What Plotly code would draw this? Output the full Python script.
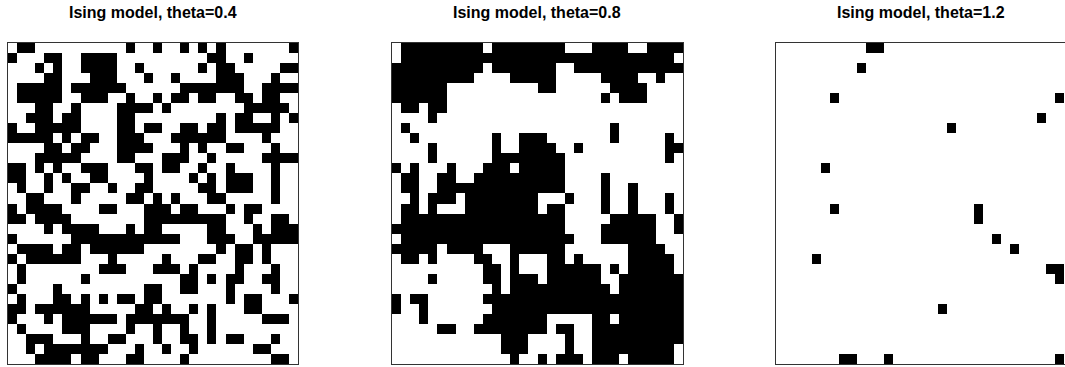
import plotly.graph_objects as go

N = 32
titles = ["Ising model, theta=0.4", "Ising model, theta=0.8", "Ising model, theta=1.2"]

# black cells per row (column indices)
theta04_rows = [
    [1,2,13,16,19,21,23,31],
    [0,4,5,8,9,10,11,22,23,26],
    [3,5,8,9,10,11,14,21,23,24,30,31],
    [4,5,9,10,11,15,18,23,24,25,29],
    [1,2,3,4,5,7,8,9,10,11,12,19,20,21,22,23,24,25,28,29,30,31],
    [1,2,3,4,5,8,9,10,13,16,18,19,21,22,25,26,28,29],
    [3,4,7,12,13,14,15,17,26,27,28,29,30],
    [2,3,4,6,7,12,13,23,25,26,29,31],
    [0,3,4,5,6,7,12,13,15,16,19,20,22,23,25,26,27,28,29],
    [0,1,2,3,4,6,8,9,12,13,14,18,19,20,21,22,23,28],
    [4,5,7,8,12,13,14,15,19,21,24,25,29],
    [3,4,5,6,7,12,13,17,18,19,22,28,29,30,31],
    [0,1,3,5,8,9,10,14,15,17,18,21,24,29],
    [0,1,4,6,9,10,15,20,22,24,25,26,29],
    [1,4,7,8,11,14,15,21,22,24,25,26,29],
    [2,3,7,13,14,16,18,22,23,29],
    [0,2,3,4,5,10,11,15,16,17,19,20,24,26,27],
    [0,1,3,4,5,6,15,16,17,18,19,20,21,22,23,26,29,30],
    [4,6,7,8,9,13,15,16,22,23,27,29,30,31],
    [0,7,8,9,10,11,12,13,14,15,16,17,18,22,23,24,27,28,29,30,31],
    [1,2,3,4,6,7,9,10,11,12,13,14,23,25,26,28],
    [0,2,3,4,5,6,7,11,17,21,22,25,26,28],
    [1,10,11,12,16,17,18,20,25,29],
    [1,8,19,20,22,24,25,28,29],
    [0,5,15,16,19,20,24,29],
    [1,5,6,8,10,12,13,15,16,24,26,27,31],
    [0,1,3,4,5,6,7,8,14,15,17,20,22,26,27],
    [0,4,6,7,8,9,10,11,13,14,15,16,17,18,19,22,28,29,30],
    [1,6,7,8,13,16,19,22],
    [2,3,4,8,11,12,16,19,20,22,24,25,29],
    [2,4,5,6,7,8,9,10,14,17,20,27,28],
    [3,4,5,6,8,9,13,14,19,29,30],
]

theta08_rows = [
    [1,2,3,4,5,6,7,8,9,11,12,13,14,15,16,17,18,22,23,24,25,28,29,30,31],
    list(range(1, 31)),
    [0,1,2,3,4,5,6,7,8,9,11,12,13,14,15,16,17,20,21,22,23,24,25,26,27,28,29,30,31],
    [0,1,2,3,4,5,6,7,8,13,14,15,16,17,23,24,25,26,29],
    [0,1,2,3,4,5,16,17,24,25,26,27],
    [0,1,2,3,4,5,23,25,26,27],
    [1,2,4,5],
    [4],
    [1,24],
    [2,11,14,15,16,24,30],
    [4,11,14,15,16,17,20,30,31],
    [4,11,12,13,14,15,16,17,18,30],
    [0,2,6,10,11,12,14,15,16,17,18],
    [1,2,5,6,9,10,11,12,13,14,15,16,17,18,23],
    [1,2,5,6,7,8,9,10,11,12,13,14,15,16,17,18,23,26],
    [2,4,5,6,8,9,10,11,12,13,14,15,19,23,26,30],
    [1,2,4,8,9,10,11,12,13,14,15,17,18,23,26,30],
    [1,2,3,4,5,6,7,8,9,10,11,12,13,14,15,16,17,18,24,25,26,27,28,31],
    [0,1,2,3,4,5,6,7,8,9,10,11,12,13,14,15,16,17,18,23,24,25,26,27,28,31],
    [1,2,3,4,5,6,7,8,9,10,11,12,13,14,15,16,17,18,19,23,24,25,26,27,28],
    [0,1,2,3,4,6,7,8,9,13,14,15,16,17,18,26,27,28,29],
    [1,2,4,9,10,13,17,18,20,26,27,28,29,30],
    [10,11,13,17,18,19,20,21,22,24,26,27,28,29,30],
    [4,10,11,13,14,15,17,18,19,20,21,22,25,26,27,28,29,30,31],
    [11,13,14,15,16,17,18,19,20,21,22,23,25,26,27,28,29,30,31],
    [0,2,3] + list(range(10, 32)),
    [0,3] + list(range(11, 32)),
    [3,10,11,12,13,14,15,16,22,23,25,26,27,28,29,30,31],
    [5,6,9,10,11,12,13,14,15,16,18,19,22,23,24,25,26,27,28,29,30,31],
    [12,13,14,19,22,23,24,25,26,27,28,29,30,31],
    [12,13,14,19,22,23,24,25,26,27,28,29,30],
    [13,16,18,19,20,22,23,24,26,27,28,29,30],
]

theta12_rows = [
    [10,11], [], [9], [], [], [6,31], [], [29], [19], [], [], [], [5], [], [], [],
    [6,22], [22], [], [24], [26], [4], [30,31], [31], [], [], [18], [], [], [], [], [7,8,12,31],
]


def to_grid(rows):
    return [[1 if c in r else 0 for c in range(N)] for r in rows]


grids = [to_grid(theta04_rows), to_grid(theta08_rows), to_grid(theta12_rows)]

W, H = 1065, 367
x_left = [8, 392, 776]
x_right = [298, 683, 1065]
y_top, y_bot = 43, 364

fig = go.Figure()
for i, g in enumerate(grids):
    sfx = "" if i == 0 else str(i + 1)
    fig.add_trace(go.Heatmap(
        z=g, x=list(range(N)), y=list(range(N)),
        colorscale=[[0, "#ffffff"], [1, "#000000"]], zmin=0, zmax=1,
        showscale=False, hoverinfo="skip",
        xaxis="x" + sfx, yaxis="y" + sfx,
    ))
    xr = [-0.5, 31.5] if i < 2 else [-0.5, 31.5 + 1.0 / 9.06]
    fig.layout["xaxis" + sfx] = dict(
        domain=[x_left[i] / W, x_right[i] / W], range=xr,
        showgrid=False, zeroline=False, showticklabels=False, ticks="",
        showline=True, mirror=True, linecolor="#333333", linewidth=1,
        anchor="y" + sfx,
    )
    fig.layout["yaxis" + sfx] = dict(
        domain=[1 - y_bot / H, 1 - y_top / H], range=[31.5, -0.5],
        showgrid=False, zeroline=False, showticklabels=False, ticks="",
        showline=True, mirror=(i < 2), linecolor="#333333", linewidth=1,
        anchor="x" + sfx,
    )
    fig.add_annotation(
        text="<b>" + titles[i] + "</b>", x=(x_left[i] + 290 / 2) / W, y=1 - 12.5 / H,
        xref="paper", yref="paper", showarrow=False,
        font=dict(family="Liberation Sans, Arial, sans-serif", size=16, color="#000"),
        xanchor="center", yanchor="middle",
    )

fig.update_layout(
    width=W, height=H, margin=dict(l=0, r=0, t=0, b=0),
    paper_bgcolor="white", plot_bgcolor="white", showlegend=False,
)
fig.write_html("out.html")
